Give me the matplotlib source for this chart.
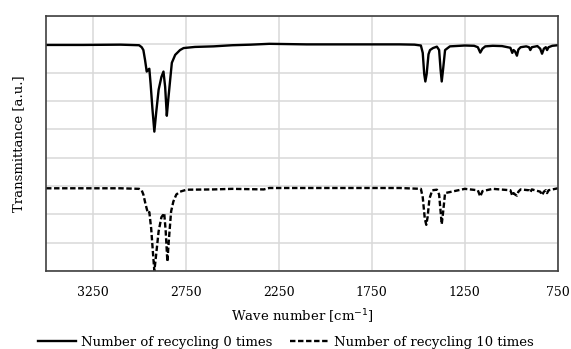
import numpy as np
import matplotlib
matplotlib.use("Agg")
from matplotlib import pyplot as plt

# Wave numbers [cm-1] and transmittance (arbitrary units)
wn_0 = [3500, 3300, 3100, 3000, 2986, 2977, 2968, 2959, 2952, 2945, 2938, 2928,
        2918, 2908, 2895, 2880, 2869, 2860, 2851, 2844, 2833, 2824, 2806, 2780,
        2761, 2700, 2600, 2500, 2400, 2300, 2200, 2100, 2000, 1900, 1800,
        1700, 1600, 1520, 1486, 1476, 1468, 1462, 1455, 1445, 1437, 1421, 1400,
        1388, 1380, 1374, 1367, 1356, 1330, 1250, 1200, 1180, 1167, 1155, 1140,
        1100, 1050, 1005, 995, 988, 980, 970, 962, 950, 920, 905, 898, 890, 860,
        845, 835, 825, 815, 808, 800, 780, 750]
tr_0 = [7.98, 7.98, 7.99, 7.97, 7.9, 7.8, 7.45, 7.04, 7.1, 7.14, 6.6, 5.7,
        4.92, 5.6, 6.4, 6.85, 7.04, 6.5, 5.48, 6.0, 6.75, 7.35, 7.63, 7.8,
        7.87, 7.91, 7.93, 7.97, 7.99, 8.02, 8.01, 8.0, 8.0, 8.0, 8.0,
        8.0, 8.0, 7.99, 7.96, 7.7, 6.95, 6.69, 6.95, 7.65, 7.8, 7.87, 7.92,
        7.8, 7.1, 6.69, 7.1, 7.8, 7.93, 7.96, 7.95, 7.9, 7.71, 7.85, 7.93,
        7.95, 7.94, 7.88, 7.7, 7.8, 7.75, 7.6, 7.82, 7.9, 7.93, 7.9, 7.8, 7.9, 7.94,
        7.85, 7.67, 7.85, 7.9, 7.8, 7.9, 7.95, 7.97]

wn_10 = [3500, 3100, 3000, 2986, 2977, 2965, 2955, 2950, 2945, 2935, 2925, 2918,
         2908, 2895, 2880, 2865, 2857, 2848, 2840, 2828, 2816, 2800, 2780, 2745,
         2600, 2500, 2330, 2300, 2200, 2000, 1800, 1600, 1486, 1476, 1465, 1457,
         1450, 1440, 1425, 1400, 1388, 1380, 1374, 1367, 1356, 1250, 1180, 1167,
         1155, 1100, 1005, 995, 988, 980, 970, 962, 950, 905, 898, 890, 845, 835,
         825, 815, 808, 800, 750]
tr_10 = [2.92, 2.92, 2.9, 2.85, 2.7, 2.35, 2.1, 2.04, 2.08, 1.5, 0.6, 0.0,
         0.6, 1.4, 1.9, 2.04, 1.4, 0.33, 1.1, 2.1, 2.45, 2.7, 2.8, 2.87,
         2.88, 2.9, 2.88, 2.93, 2.93, 2.93, 2.93, 2.93, 2.9, 2.6, 1.85, 1.63,
         1.9, 2.55, 2.85, 2.87, 2.7, 2.1, 1.65, 2.05, 2.75, 2.9, 2.85, 2.63,
         2.82, 2.9, 2.85, 2.66, 2.75, 2.7, 2.66, 2.8, 2.88, 2.85, 2.78, 2.88, 2.8, 2.68,
         2.8, 2.85, 2.75, 2.85, 2.92]

xticks = [3250, 2750, 2250, 1750, 1250, 750]

plt.rcParams['font.family'] = ['DejaVu Serif']

fig = plt.figure(figsize=(5.71, 3.49), dpi=100)
ax = fig.add_axes([0.0806, 0.2235, 0.8964, 0.7305])

ax.plot(wn_0, tr_0, 'k', linewidth=1.7, label="Number of recycling 0 times")
ax.plot(wn_10, tr_10, 'k', linewidth=1.7, dashes=(2.3, 1.1),
        label="Number of recycling 10 times")

ax.set_xlim(3500, 750)
ax.set_ylim(0, 9)
ax.set_xticks(xticks)
ax.set_yticks(np.arange(0, 10, 1))
ax.set_yticklabels([])
ax.tick_params(length=0, labelsize=9, pad=11)
ax.grid(True, color='#d9d9d9', linewidth=1.1)
ax.set_axisbelow(True)
for s in ax.spines.values():
    s.set_color('#404040')
    s.set_linewidth(1.2)

ax.set_xlabel("Wave number [cm$^{-1}$]", fontsize=9.5, labelpad=6)
ax.set_ylabel("Transmittance [a.u.]", fontsize=9.5, labelpad=4)

fig.legend(loc='center', bbox_to_anchor=(0.5, 0.02), ncol=2, frameon=False,
           fontsize=9.5, handlelength=2.9, handletextpad=0.38, columnspacing=1.36)

fig.savefig("out.png", dpi=100)
